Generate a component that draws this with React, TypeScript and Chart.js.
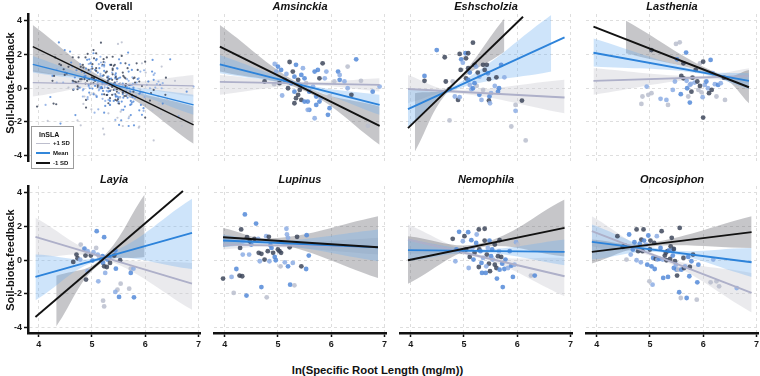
import React, { useEffect, useRef } from 'react';
import { Chart, registerables } from 'chart.js';

Chart.register(...registerables);

// [ln SRL, soil-biota feedback, SLA shade: 0 = high SLA ... 3 = low SLA]
type Pt = [number, number, number];
type Fit = { sd: string; x: number[]; y: number[]; bandX: number[]; bandHi: number[]; bandLo: number[] };

const X_TICKS = [4, 5, 6, 7];
const Y_TICKS = [-4, -2, 0, 2, 4];
const X_RANGE = [3.8, 7.03];
const Y_RANGE = [-4.33, 4.4];
const SD_LEVELS = ['+1 SD', 'Mean', '-1 SD'];

const amsinckiaPoints: Pt[] = [
  [4.75, 0.39, 3], [4.94, 1.43, 1], [5.0, 1.28, 2], [4.97, 0.98, 1], [5.03, 0.29, 3], [4.93, 0.23, 0], [5.06, 1.08, 2],
  [5.13, 0.49, 2], [5.16, 0.84, 1], [5.22, 1.55, 3], [5.28, 0.98, 3], [5.31, 0.68, 2], [5.34, 1.38, 2], [5.38, 0.49, 3],
  [5.41, 0.19, 2], [5.44, 0.78, 2], [5.47, 1.18, 1], [5.5, 0.58, 2], [5.53, 0.29, 0], [5.08, -0.44, 1], [5.19, -0.01, 3],
  [5.31, -0.21, 2], [5.34, -0.6, 3], [5.31, -0.9, 3], [5.38, -0.4, 3], [5.44, -0.7, 3], [5.5, -0.8, 2], [5.56, -0.8, 2],
  [5.59, -0.21, 2], [5.66, 0.09, 1], [5.69, 0.98, 2], [5.75, 1.08, 2], [5.78, 0.58, 3], [5.84, 1.47, 3], [5.88, 0.58, 1],
  [5.91, 0.98, 1], [5.72, -0.5, 2], [5.72, -1.0, 2], [5.78, -0.8, 2], [5.81, -0.6, 1], [5.59, -1.29, 2], [5.69, -1.79, 1],
  [5.94, -1.59, 2], [5.97, -1.19, 2], [5.97, -0.5, 0], [6.06, 0.39, 0], [6.13, 0.98, 2], [6.16, 0.49, 2], [6.25, 0.39, 1],
  [6.31, 1.28, 0], [6.31, -0.01, 1], [6.38, -0.4, 3], [6.47, 1.71, 2], [6.56, 0.43, 0], [6.78, -0.21, 2], [6.91, 0.09, 1],
  [6.69, -2.24, 0], [6.16, 0.78, 1], [5.56, -1.29, 1], [5.25, 0.29, 2], [5.41, -0.11, 3],
];

const eshscholziaPoints: Pt[] = [
  [4.26, 0.72, 2], [4.26, 0.43, 3], [4.49, 2.26, 2], [4.64, 1.83, 3], [4.66, 0.39, 3], [4.73, -0.07, 3], [4.73, -1.92, 0],
  [4.83, -0.5, 1], [4.89, -0.7, 3], [4.92, -0.54, 1], [4.92, 2.03, 3], [4.95, 1.71, 2], [4.98, 1.51, 1], [5.03, 2.07, 2],
  [5.04, 1.77, 3], [5.08, 2.07, 3], [4.94, 1.08, 3], [5.04, 0.58, 3], [5.08, 1.18, 3], [5.11, 0.92, 2], [5.08, 0.49, 2],
  [5.11, 0.19, 1], [5.14, -0.07, 1], [5.17, 2.7, 3], [5.17, -0.01, 2], [5.2, 1.38, 3], [5.23, 1.28, 1], [5.26, 0.92, 3],
  [5.29, -0.4, 2], [5.24, 0.13, 0], [5.29, 0.68, 1], [5.33, -0.7, 1], [5.36, 1.38, 3], [5.39, 1.08, 3], [5.43, 1.38, 3],
  [5.45, 0.88, 2], [5.47, 0.53, 3], [5.48, -0.5, 2], [5.51, -0.3, 1], [5.47, -0.74, 3], [5.49, -0.9, 1], [5.58, 0.13, 1],
  [5.61, 0.64, 3], [5.64, -0.21, 2], [5.66, -0.01, 2], [5.7, 1.38, 2], [5.76, 0.64, 1], [5.36, -0.11, 0], [5.89, -2.28, 0],
  [5.97, -1.0, 0], [5.97, -1.35, 1], [6.09, -0.74, 3], [6.16, -3.11, 0], [4.79, 0.39, 0], [5.2, 0.29, 2],
];

const lastheniaPoints: Pt[] = [
  [4.84, -0.94, 0], [4.86, -0.5, 0], [4.94, 0.09, 1], [4.97, -0.4, 0], [5.03, -0.3, 0], [5.03, 2.26, 3], [5.2, -0.64, 1],
  [5.31, -0.7, 1], [5.34, -1.0, 0], [5.43, -0.11, 1], [5.49, 2.62, 0], [5.56, 2.72, 0], [5.51, 1.71, 2], [5.47, 0.39, 1],
  [5.58, -0.36, 2], [5.59, 0.72, 3], [5.63, 0.58, 3], [5.63, 1.47, 3], [5.68, 2.11, 2], [5.69, 0.43, 1], [5.7, -0.01, 2],
  [5.72, -0.5, 0], [5.75, -0.86, 2], [5.77, 0.25, 1], [5.78, -0.21, 3], [5.8, 0.62, 3], [5.84, 0.33, 1], [5.86, 1.08, 3],
  [5.89, 0.39, 3], [5.91, -0.11, 0], [5.94, 1.47, 0], [5.97, -0.25, 0], [5.99, -0.54, 1], [6.0, 1.57, 3], [6.03, 0.19, 1],
  [6.06, 0.39, 2], [6.09, -0.01, 1], [6.11, -0.3, 3], [6.14, 1.67, 2], [6.16, -0.11, 3], [6.18, 0.88, 1], [6.22, 0.23, 1],
  [6.25, -0.5, 0], [6.28, 0.19, 2], [6.33, 0.29, 1], [6.39, 0.62, 3], [6.41, -0.7, 0], [6.0, -1.75, 3], [5.94, 0.13, 3],
  [5.75, 0.19, 1],
];

const layiaPoints: Pt[] = [
  [4.65, -0.11, 3], [4.71, 0.33, 3], [4.73, 0.11, 3], [4.79, 0.92, 0], [4.78, 0.03, 1], [4.86, 0.68, 2], [4.88, 0.27, 3],
  [4.92, 0.53, 1], [4.89, -1.16, 3], [4.92, -0.66, 1], [4.98, 0.27, 3], [5.03, 0.47, 1], [5.08, 0.72, 0], [5.09, 1.72, 2],
  [5.11, 0.33, 1], [5.12, -1.26, 1], [5.14, 0.13, 0], [5.17, 0.03, 2], [5.2, 0.23, 2], [5.21, -0.17, 2], [5.23, 1.36, 2],
  [5.23, -0.37, 3], [5.25, -0.76, 1], [5.28, -0.41, 3], [5.29, 0.03, 2], [5.33, 0.19, 2], [5.34, -0.17, 3], [5.42, 0.27, 3],
  [5.44, 0.57, 2], [5.45, -0.51, 2], [5.53, -0.01, 3], [5.54, -1.4, 0], [5.48, -1.76, 0], [5.44, -1.89, 1], [5.51, -2.19, 2],
  [5.7, -1.7, 0], [5.73, -0.51, 0], [5.73, -0.76, 2], [5.78, -0.51, 1], [5.79, -2.21, 2], [5.21, -2.41, 0], [5.23, -2.75, 0],
  [5.01, -0.03, 2],
];

const lupinusPoints: Pt[] = [
  [3.97, -1.1, 3], [4.13, -1.0, 1], [4.17, -1.95, 0], [4.22, -0.53, 2], [4.28, -0.92, 3], [4.29, 0.72, 3], [4.31, 1.82, 3],
  [4.33, -0.96, 3], [4.34, 0.33, 1], [4.38, 2.71, 2], [4.41, -2.11, 2], [4.42, 1.36, 3], [4.46, 0.33, 1], [4.5, 0.92, 2],
  [4.56, 1.26, 3], [4.59, 2.17, 2], [4.63, 1.26, 1], [4.64, 0.43, 3], [4.66, -0.07, 1], [4.69, -1.6, 2], [4.69, 0.37, 3],
  [4.75, 0.03, 3], [4.78, 1.42, 1], [4.79, -2.21, 0], [4.81, 0.53, 3], [4.84, -0.07, 1], [4.83, 1.38, 3], [4.86, 0.88, 2],
  [4.91, 0.43, 3], [4.94, 0.19, 2], [4.96, -0.01, 2], [5.0, 0.63, 3], [5.03, 0.53, 3], [5.05, -0.37, 0], [5.06, 0.43, 3],
  [5.13, -0.13, 1], [5.16, 1.86, 1], [5.17, 1.52, 1], [5.19, -0.37, 2], [5.22, 0.76, 3], [5.23, -1.46, 2], [5.31, -1.5, 0],
  [5.36, 1.38, 3], [5.38, 0.92, 1], [5.44, -0.37, 3], [5.53, -0.53, 2], [5.54, 1.48, 2], [5.58, 0.27, 2], [5.19, 1.32, 1],
  [5.28, -0.17, 1], [4.34, 1.12, 1], [4.47, 1.12, 3], [4.88, 0.72, 2],
];

const nemophilaPoints: Pt[] = [
  [4.79, 1.26, 3], [4.84, -0.07, 1], [4.91, 1.68, 2], [4.95, 0.53, 3], [4.98, 1.12, 1], [5.01, 1.42, 3], [5.08, 1.66, 2],
  [5.09, -0.47, 1], [5.11, 0.19, 3], [5.14, 1.18, 2], [5.16, 0.72, 1], [5.18, 0.03, 2], [5.2, 0.43, 3], [5.23, 1.02, 2],
  [5.24, 1.52, 1], [5.28, 1.82, 3], [5.28, -0.41, 3], [5.29, 0.63, 3], [5.31, 0.53, 2], [5.33, -0.17, 2], [5.34, -0.76, 2],
  [5.36, 0.13, 1], [5.39, 1.86, 3], [5.39, 1.16, 3], [5.41, -0.76, 2], [5.43, 0.33, 3], [5.45, 0.72, 1], [5.47, -0.21, 3],
  [5.48, 1.16, 2], [5.49, -0.66, 3], [5.51, 0.23, 2], [5.53, 0.63, 2], [5.54, 0.03, 1], [5.58, -0.27, 3], [5.58, 0.92, 3],
  [5.61, -0.47, 3], [5.62, -1.1, 2], [5.64, 0.23, 3], [5.66, 0.53, 1], [5.67, 1.18, 3], [5.7, 0.19, 3], [5.72, -0.21, 2],
  [5.73, -1.6, 2], [5.76, -0.53, 2], [5.78, 0.03, 2], [5.83, -0.47, 1], [5.86, 0.53, 2], [5.89, -0.33, 2], [5.92, -1.0, 2],
  [5.95, -0.27, 1], [5.98, 1.06, 1], [6.01, 0.92, 0], [6.26, -0.92, 0], [6.33, -0.92, 2], [4.86, 0.63, 2], [5.04, 0.63, 3],
  [5.42, -0.37, 1], [5.67, -0.57, 2],
];

const oncosiphonPoints: Pt[] = [
  [4.39, 1.42, 3], [4.49, 0.78, 3], [4.53, 0.86, 3], [4.56, 0.03, 0], [4.61, 1.52, 2], [4.64, 0.33, 1], [4.68, 0.63, 2],
  [4.71, 1.06, 2], [4.75, 1.82, 3], [4.75, -0.01, 1], [4.78, 0.53, 3], [4.81, 0.98, 2], [4.83, -0.13, 1], [4.84, 1.22, 3],
  [4.86, 0.53, 3], [4.88, 1.82, 3], [4.89, 1.16, 2], [4.93, 0.92, 1], [4.95, -0.27, 2], [4.97, 1.46, 2], [4.99, -1.26, 0],
  [5.0, 0.63, 3], [5.01, 1.16, 3], [5.03, -0.37, 2], [5.05, -1.46, 1], [5.06, 0.13, 2], [5.08, 1.02, 3], [5.09, -0.53, 2],
  [5.11, 0.07, 3], [5.13, 1.42, 1], [5.14, 0.03, 1], [5.18, 0.07, 2], [5.2, 0.72, 2], [5.22, 1.72, 3], [5.24, 0.03, 1],
  [5.25, -1.06, 2], [5.28, 0.27, 3], [5.3, 0.43, 3], [5.31, -0.01, 3], [5.33, 0.53, 3], [5.34, -1.0, 2], [5.36, 0.57, 2],
  [5.38, 0.07, 3], [5.39, 0.82, 3], [5.41, 1.32, 3], [5.43, 0.27, 2], [5.44, 0.63, 2], [5.45, -0.47, 2], [5.47, -0.07, 3],
  [5.49, -0.27, 1], [5.5, -0.57, 2], [5.51, -0.92, 3], [5.53, -0.57, 0], [5.55, -1.91, 2], [5.56, 1.91, 3], [5.58, -2.25, 0],
  [5.59, -0.57, 2], [5.63, 0.13, 3], [5.64, -0.47, 3], [5.66, -0.37, 1], [5.69, -2.25, 2], [5.72, 0.19, 2], [5.74, -0.96, 2],
  [5.75, -0.41, 3], [5.78, -0.07, 2], [5.81, 0.33, 3], [5.88, -2.35, 0], [5.89, -1.32, 2], [5.91, -0.27, 2], [6.14, -1.32, 0],
  [6.19, 0.03, 1], [6.25, -1.26, 0], [6.3, -1.56, 0], [6.63, -1.66, 1], [5.45, 0.66, 3],
];

// The pooled panel shows every species together
const overallPoints: Pt[] = [
  ...amsinckiaPoints, ...eshscholziaPoints, ...lastheniaPoints, ...layiaPoints,
  ...lupinusPoints, ...nemophilaPoints, ...oncosiphonPoints,
];

// Fitted lines at +1 SD / mean / -1 SD of lnSLA, with 95% confidence bands
const overallFits: Fit[] = [
  { sd: '+1 SD', x: [3.89, 6.91], y: [0.33, 0.13], bandX: [3.89, 5.33, 6.91], bandHi: [1.08, 0.33, 0.78], bandLo: [-0.5, 0.13, -0.5] },
  { sd: 'Mean', x: [3.89, 6.91], y: [1.41, -1.0], bandX: [3.89, 5.33, 6.91], bandHi: [1.91, 0.36, -0.4], bandLo: [0.92, 0.16, -1.59] },
  { sd: '-1 SD', x: [3.89, 6.91], y: [2.46, -2.18], bandX: [3.89, 5.33, 6.91], bandHi: [3.75, 0.4, -1.1], bandLo: [0.98, 0.1, -3.31] },
];

const amsinckiaFits: Fit[] = [
  { sd: '+1 SD', x: [3.91, 6.91], y: [0.37, 0.19], bandX: [3.91, 5.5, 6.91], bandHi: [0.78, 0.37, 0.58], bandLo: [-0.4, 0.17, -0.2] },
  { sd: 'Mean', x: [3.91, 6.91], y: [1.41, -1.0], bandX: [3.91, 5.5, 6.91], bandHi: [1.97, 0.25, -0.4], bandLo: [0.88, 0.01, -1.59] },
  { sd: '-1 SD', x: [3.91, 6.91], y: [2.46, -2.24], bandX: [3.91, 5.5, 6.91], bandHi: [3.75, 0.12, -1.1], bandLo: [0.98, -0.18, -3.37] },
];

const eshscholziaFits: Fit[] = [
  { sd: '+1 SD', x: [3.95, 6.89], y: [-0.05, -0.56], bandX: [3.95, 4.75, 6.89], bandHi: [0.78, -0.09, 0.49], bandLo: [-0.9, -0.29, -1.49] },
  { sd: 'Mean', x: [3.95, 6.89], y: [-1.25, 3.01], bandX: [3.95, 4.73, 6.64], bandHi: [-0.07, 0.0, 4.34], bandLo: [-2.38, -0.24, 0.98] },
  { sd: '-1 SD', x: [3.95, 6.11], y: [-2.38, 4.24], bandX: [4.08, 4.72, 5.76], bandHi: [-0.3, 0.1, 4.14], bandLo: [-3.76, -0.14, 2.16] },
];

const lastheniaFits: Fit[] = [
  { sd: '+1 SD', x: [3.94, 6.86], y: [0.43, 0.72], bandX: [3.94, 5.9, 6.86], bandHi: [1.18, 0.72, 1.18], bandLo: [-0.4, 0.52, 0.29] },
  { sd: 'Mean', x: [3.94, 6.86], y: [2.1, 0.43], bandX: [3.94, 5.9, 6.86], bandHi: [2.95, 1.08, 0.88], bandLo: [1.28, 0.88, -0.07] },
  { sd: '-1 SD', x: [3.94, 6.86], y: [3.65, 0.05], bandX: [4.55, 6.38, 6.86], bandHi: [4.0, 0.74, 1.08], bandLo: [2.07, 0.54, -0.9] },
];

const layiaFits: Fit[] = [
  { sd: '+1 SD', x: [3.94, 6.88], y: [1.38, -1.4], bandX: [3.94, 5.2, 6.88], bandHi: [2.51, 0.29, -0.17], bandLo: [0.19, 0.09, -2.95] },
  { sd: 'Mean', x: [3.94, 6.88], y: [-1.0, 1.62], bandX: [3.94, 5.2, 6.88], bandHi: [0.33, 0.24, 3.64], bandLo: [-2.39, 0.0, -0.53] },
  { sd: '-1 SD', x: [3.94, 6.71], y: [-3.38, 4.1], bandX: [4.33, 5.14, 5.99], bandHi: [-0.93, -0.02, 3.9], bandLo: [-3.94, -0.26, 0.19] },
];

const lupinusFits: Fit[] = [
  { sd: '+1 SD', x: [3.97, 6.88], y: [0.92, 0.78], bandX: [3.97, 4.9, 6.88], bandHi: [1.32, 0.98, 1.32], bandLo: [0.63, 0.78, 0.33] },
  { sd: 'Mean', x: [3.97, 6.88], y: [1.16, 0.76], bandX: [3.97, 4.9, 6.88], bandHi: [1.52, 1.13, 1.82], bandLo: [0.78, 0.93, -0.07] },
  { sd: '-1 SD', x: [3.97, 6.88], y: [1.36, 0.76], bandX: [3.97, 4.9, 6.88], bandHi: [1.91, 1.29, 2.61], bandLo: [0.78, 1.05, -1.06] },
];

const nemophilaFits: Fit[] = [
  { sd: '+1 SD', x: [3.95, 6.89], y: [1.22, -0.96], bandX: [3.95, 5.3, 6.89], bandHi: [2.11, 0.32, 0.13], bandLo: [0.4, 0.12, -2.15] },
  { sd: 'Mean', x: [3.95, 6.89], y: [0.59, 0.49], bandX: [3.95, 5.3, 6.89], bandHi: [1.22, 0.64, 1.22], bandLo: [-0.07, 0.44, -0.3] },
  { sd: '-1 SD', x: [3.95, 6.89], y: [-0.01, 1.91], bandX: [3.95, 5.3, 6.89], bandHi: [1.42, 0.99, 3.6], bandLo: [-1.4, 0.75, 0.22] },
];

const oncosiphonFits: Fit[] = [
  { sd: '+1 SD', x: [3.91, 6.91], y: [1.72, -1.95], bandX: [3.91, 5.2, 6.91], bandHi: [2.61, 0.24, -0.76], bandLo: [0.82, 0.04, -3.11] },
  { sd: 'Mean', x: [3.91, 6.91], y: [1.08, -0.13], bandX: [3.91, 5.2, 6.91], bandHi: [2.11, 0.66, 0.72], bandLo: [0.03, 0.46, -1.0] },
  { sd: '-1 SD', x: [3.91, 6.91], y: [0.49, 1.66], bandX: [3.91, 4.9, 6.91], bandHi: [1.22, 0.98, 2.61], bandLo: [-0.2, 0.78, 0.72] },
];

type PanelSpec = { title: string; italic: boolean; overall?: boolean; points: Pt[]; fits: Fit[] };

const PANELS: PanelSpec[] = [
  { title: 'Overall', italic: false, overall: true, points: overallPoints, fits: overallFits },
  { title: 'Amsinckia', italic: true, points: amsinckiaPoints, fits: amsinckiaFits },
  { title: 'Eshscholzia', italic: true, points: eshscholziaPoints, fits: eshscholziaFits },
  { title: 'Lasthenia', italic: true, points: lastheniaPoints, fits: lastheniaFits },
  { title: 'Layia', italic: true, points: layiaPoints, fits: layiaFits },
  { title: 'Lupinus', italic: true, points: lupinusPoints, fits: lupinusFits },
  { title: 'Nemophila', italic: true, points: nemophilaPoints, fits: nemophilaFits },
  { title: 'Oncosiphon', italic: true, points: oncosiphonPoints, fits: oncosiphonFits },
];

// Styling
const FONT = "'Liberation Sans', Arial, sans-serif";
const LINE_COLOR = ['#aeb0c9', '#2d83da', '#121212'];
const BAND_COLOR = ['rgba(196,196,206,0.36)', 'rgba(112,176,240,0.34)', 'rgba(105,105,112,0.38)'];
const SHADE = ['rgba(186,190,206,0.85)', 'rgba(140,173,228,0.85)', 'rgba(84,138,216,0.85)', 'rgba(62,72,92,0.85)'];

// Plot-area geometry (px)
const COL_LEFT = [28, 214, 400, 586];
const ROW_TOP = [14, 186];
const AREA_W = 172;
const AREA_H = 147;
const PAD_L = 30;
const PAD_T = 8;
const PAD_R = 8;
const PAD_B = 22;
const CANVAS_W = PAD_L + AREA_W + PAD_R;
const CANVAS_H = PAD_T + AREA_H + PAD_B;

function Panel({ spec, col, row }: { spec: PanelSpec; col: number; row: number }) {
  const ref = useRef<HTMLCanvasElement | null>(null);

  useEffect(() => {
    const canvas = ref.current;
    if (!canvas) return;
    const small = !!spec.overall;
    const datasets: any[] = [];

    // regression lines, black on top
    spec.fits.forEach((f) => {
      const lvl = SD_LEVELS.indexOf(f.sd);
      datasets.push({
        data: f.x.map((x, k) => ({ x, y: f.y[k] })),
        borderColor: LINE_COLOR[lvl],
        borderWidth: small ? 1.3 : 1.9,
        pointRadius: 0,
        fill: false,
        order: 2 - lvl,
      });
    });

    // observations
    datasets.push({
      data: spec.points.map((p) => ({ x: p[0], y: p[1] })),
      showLine: false,
      pointRadius: small ? 1.1 : 2.4,
      pointBorderWidth: 0,
      pointBorderColor: 'rgba(0,0,0,0)',
      pointBackgroundColor: spec.points.map((p) => SHADE[p[2]]),
      order: 3,
    });

    // confidence bands: upper edge filled down to the lower edge
    spec.fits.forEach((f) => {
      const lvl = SD_LEVELS.indexOf(f.sd);
      const ord = [6, 4, 5][lvl];
      const edge = {
        borderWidth: 0,
        borderColor: 'rgba(0,0,0,0)',
        pointRadius: 0,
        tension: 0.4,
        order: ord,
      };
      datasets.push({
        ...edge,
        data: f.bandX.map((x, k) => ({ x, y: f.bandHi[k] })),
        fill: '+1',
        backgroundColor: BAND_COLOR[lvl],
      });
      datasets.push({
        ...edge,
        data: f.bandX.map((x, k) => ({ x, y: f.bandLo[k] })),
        fill: false,
      });
    });

    const showX = row === 1;
    const showY = col === 0;
    const tickFont = { family: FONT, weight: 'bold' as const, size: 9 };

    const chart = new Chart(canvas, {
      type: 'line',
      data: { datasets },
      options: {
        responsive: false,
        maintainAspectRatio: false,
        animation: false,
        events: [],
        layout: { padding: { left: 0, top: PAD_T, right: PAD_R, bottom: 0 } },
        plugins: { legend: { display: false }, tooltip: { enabled: false }, title: { display: false } },
        scales: {
          x: {
            type: 'linear',
            min: X_RANGE[0],
            max: X_RANGE[1],
            afterBuildTicks: (s: any) => {
              s.ticks = X_TICKS.map((v) => ({ value: v }));
            },
            afterFit: (s: any) => {
              s.height = PAD_B;
            },
            grid: { color: '#dedede', lineWidth: 1, drawTicks: showX, tickLength: 4, tickColor: '#111', tickWidth: 1.5 },
            border: { display: showX, color: '#111', width: 2.5, dash: [3, 3] },
            ticks: { display: showX, font: tickFont, color: '#1a1a1a', padding: 2, maxRotation: 0 },
          },
          y: {
            type: 'linear',
            min: Y_RANGE[0],
            max: Y_RANGE[1],
            afterBuildTicks: (s: any) => {
              s.ticks = Y_TICKS.map((v) => ({ value: v }));
            },
            afterFit: (s: any) => {
              s.width = PAD_L;
            },
            grid: { color: '#dedede', lineWidth: 1, drawTicks: showY, tickLength: 4, tickColor: '#111', tickWidth: 1.5 },
            border: { display: showY, color: '#111', width: 2.5, dash: [3, 3] },
            ticks: { display: showY, font: tickFont, color: '#1a1a1a', padding: 2 },
          },
        },
      },
    } as any);

    return () => chart.destroy();
  }, [spec, col, row]);

  return (
    <canvas
      ref={ref}
      width={CANVAS_W}
      height={CANVAS_H}
      style={{
        position: 'absolute',
        left: COL_LEFT[col] - PAD_L,
        top: ROW_TOP[row] - PAD_T,
        width: CANVAS_W,
        height: CANVAS_H,
      }}
    />
  );
}

const LEGEND_ROWS = [
  { label: '+1 SD', color: '#bdbecd', y: 16.5 },
  { label: 'Mean', color: '#3287da', y: 26 },
  { label: '-1 SD', color: '#121212', y: 36 },
];

function Legend() {
  return (
    <div
      style={{
        position: 'absolute',
        left: 31,
        top: 126,
        width: 43,
        height: 43,
        boxSizing: 'border-box',
        border: '1px solid #9c9c9c',
        background: '#fff',
        fontFamily: FONT,
        fontWeight: 'bold',
        color: '#111',
      }}
    >
      <div style={{ position: 'absolute', left: 7, top: 4, fontSize: 7, lineHeight: '8px' }}>lnSLA</div>
      {LEGEND_ROWS.map((r) => (
        <React.Fragment key={r.label}>
          <div style={{ position: 'absolute', left: 4, top: r.y - 1, width: 14, height: 1.8, background: r.color }} />
          <div style={{ position: 'absolute', left: 21, top: r.y - 3.5, fontSize: 6, lineHeight: '7px', whiteSpace: 'nowrap' }}>
            {r.label}
          </div>
        </React.Fragment>
      ))}
    </div>
  );
}

export default function App() {
  return (
    <div
      style={{
        position: 'fixed',
        left: 0,
        top: 0,
        width: 760,
        height: 376,
        background: '#fff',
        overflow: 'hidden',
        fontFamily: FONT,
      }}
    >
      {PANELS.map((p, i) => {
        const col = i % 4;
        const row = Math.floor(i / 4);
        return (
          <React.Fragment key={p.title}>
            <Panel spec={p} col={col} row={row} />
            <div
              style={{
                position: 'absolute',
                left: COL_LEFT[col],
                width: AREA_W,
                top: row === 0 ? 0 : 173,
                textAlign: 'center',
                fontSize: 11,
                lineHeight: '12px',
                fontWeight: 'bold',
                fontStyle: p.italic ? 'italic' : 'normal',
                color: '#111',
              }}
            >
              {p.title}
            </div>
          </React.Fragment>
        );
      })}

      {[83, 260].map((cy) => (
        <div
          key={cy}
          style={{
            position: 'absolute',
            left: 10 - 70,
            top: cy - 7,
            width: 140,
            height: 14,
            lineHeight: '14px',
            textAlign: 'center',
            transform: 'rotate(-90deg)',
            fontSize: 11,
            fontWeight: 'bold',
            color: '#111',
            whiteSpace: 'nowrap',
          }}
        >
          Soil-biota-feedback
        </div>
      ))}

      <div
        style={{
          position: 'absolute',
          left: 377.5 - 150,
          top: 363.5,
          width: 300,
          textAlign: 'center',
          fontSize: 11.3,
          lineHeight: '13px',
          fontWeight: 'bold',
          color: '#111',
          whiteSpace: 'nowrap',
        }}
      >
        ln(Specific Root Length (mg/m))
      </div>

      <Legend />
    </div>
  );
}
